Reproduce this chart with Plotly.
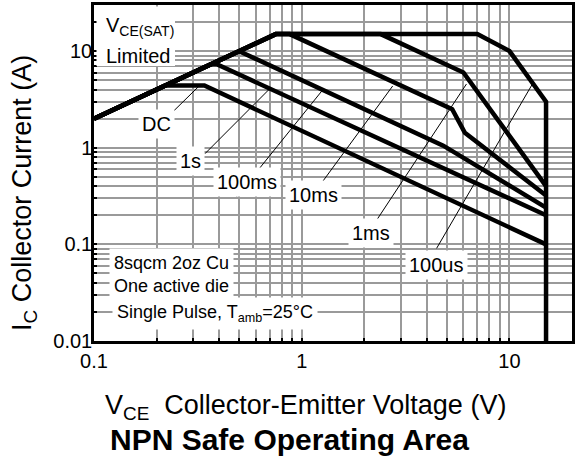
import math
import plotly.graph_objects as go

# ---- data ----
curve_names = ["DC", "1s", "100ms", "10ms", "1ms", "100us"]
dc_V = [0.1, 0.22, 0.34, 15]
dc_I = [2, 4.4, 4.4, 0.1]
s1_V = [0.1, 0.365, 0.39, 15]
s1_I = [2, 7.3, 7.3, 0.2]
ms100_V = [0.1, 0.5, 4.8, 15]
ms100_I = [2, 10, 1.05, 0.24]
ms10_V = [0.1, 0.75, 0.875, 5.3, 6.1, 15]
ms10_I = [2, 15, 15, 2.5, 1.43, 0.32]
ms1_V = [0.1, 0.75, 2.4, 6, 15]
ms1_I = [2, 15, 15, 6, 0.4]
us100_V = [0.1, 0.75, 7, 10, 15, 15]
us100_I = [2, 15, 15, 10, 3, 0.01]

label_text = ["DC", "1s", "100ms", "10ms", "1ms", "100us"]
label_V = [0.199, 0.29, 0.545, 1.14, 2.15, 4.46]
label_I = [1.77, 0.735, 0.446, 0.327, 0.13, 0.0608]

# leader lines: (V1, I1) -> (V2, I2)
leader_V1 = [0.237, 0.342, 0.487, 1.23, 2.29, 4.46]
leader_I1 = [2.3, 0.867, 0.313, 0.416, 0.177, 0.091]
leader_V2 = [0.324, 0.70, 1.25, 2.74, 6.21, 12.9]
leader_I2 = [4.45, 4.06, 3.87, 4.35, 4.57, 4.57]

x_tickvals = [0.1, 0.2, 0.3, 0.4, 0.5, 0.6, 0.7, 0.8, 0.9,
              1, 2, 3, 4, 5, 6, 7, 8, 9, 10, 20]
x_ticktext = ["0.1"] + [""] * 8 + ["1"] + [""] * 8 + ["10", ""]
y_tickvals = [0.01, 0.02, 0.03, 0.04, 0.05, 0.06, 0.07, 0.08, 0.09,
              0.1, 0.2, 0.3, 0.4, 0.5, 0.6, 0.7, 0.8, 0.9,
              1, 2, 3, 4, 5, 6, 7, 8, 9, 10, 20, 30]
y_ticktext = (["0.01"] + [""] * 8 + ["0.1"] + [""] * 8 + ["1"] + [""] * 8
              + ["10", "", ""])

FONT = "Liberation Sans, Arial, sans-serif"

fig = go.Figure()
series = [(dc_V, dc_I), (s1_V, s1_I), (ms100_V, ms100_I),
          (ms10_V, ms10_I), (ms1_V, ms1_I), (us100_V, us100_I)]
for name, (v, i) in zip(curve_names, series):
    fig.add_trace(go.Scatter(x=v, y=i, mode="lines", name=name,
                             line=dict(color="black", width=4.5),
                             showlegend=False, hoverinfo="skip"))

# leader lines
for a, b, c, d in zip(leader_V1, leader_I1, leader_V2, leader_I2):
    fig.add_shape(type="line", xref="x", yref="y", x0=a, y0=b, x1=c, y1=d,
                  line=dict(color="black", width=1), layer="above")

# curve labels
for t, v, i in zip(label_text, label_V, label_I):
    fig.add_annotation(x=math.log10(v), y=math.log10(i), xref="x", yref="y",
                       text=t, showarrow=False, bgcolor="white", borderpad=3,
                       font=dict(family=FONT, size=20, color="black"))


def px_x(p):
    return (p - 94) / 478.0


def px_y(p):
    return (341 - p) / 336.0


# white box behind "V_CE(SAT) Limited"
fig.add_shape(type="rect", xref="paper", yref="paper",
              x0=px_x(96.5), x1=px_x(175), y0=px_y(66), y1=px_y(6.5),
              fillcolor="white", line=dict(width=0), layer="above")
fig.add_annotation(x=px_x(104), y=px_y(27), xref="paper", yref="paper",
                   xanchor="left", yanchor="middle", align="left",
                   text="V<sub>CE(SAT)</sub>", showarrow=False,
                   font=dict(family=FONT, size=20, color="black"))
fig.add_annotation(x=px_x(104), y=px_y(56), xref="paper", yref="paper",
                   xanchor="left", yanchor="middle", align="left",
                   text="Limited", showarrow=False,
                   font=dict(family=FONT, size=20, color="black"))

fig.add_annotation(x=px_x(109), y=px_y(248), xref="paper", yref="paper",
                   xanchor="left", yanchor="top", align="left",
                   text="8sqcm 2oz Cu<br>One active die", showarrow=False,
                   bgcolor="white", borderpad=4,
                   font=dict(family=FONT, size=18, color="black"))
fig.add_annotation(x=px_x(112), y=px_y(313), xref="paper", yref="paper",
                   xanchor="left", yanchor="middle", align="left",
                   text="Single Pulse, T<sub>amb</sub>=25°C", showarrow=False,
                   bgcolor="white", borderpad=4,
                   font=dict(family=FONT, size=18, color="black"))

# axis titles and chart title
fig.add_annotation(x=px_x(305), y=px_y(407), xref="paper", yref="paper",
                   xanchor="center", yanchor="middle",
                   text="V<sub>CE</sub>  Collector-Emitter Voltage (V)",
                   showarrow=False,
                   font=dict(family=FONT, size=27, color="black"))
fig.add_annotation(x=px_x(289), y=px_y(439), xref="paper", yref="paper",
                   xanchor="center", yanchor="middle",
                   text="<b>NPN Safe Operating Area</b>", showarrow=False,
                   font=dict(family=FONT, size=30, color="black"))
fig.add_annotation(x=px_x(24), y=px_y(193), xref="paper", yref="paper",
                   xanchor="center", yanchor="middle",
                   text="I<sub>C</sub> Collector Current (A)", textangle=-90,
                   showarrow=False,
                   font=dict(family=FONT, size=27, color="black"))

axis_common = dict(type="log", showgrid=True, gridcolor="#9a9a9a",
                   gridwidth=1.5, showline=True, linecolor="black",
                   linewidth=2.5, mirror=True, ticks="inside", ticklen=3,
                   tickwidth=2, tickcolor="black", zeroline=False,
                   automargin=False,
                   tickfont=dict(family=FONT, size=20, color="black"))

fig.update_xaxes(range=[-1, math.log10(20)], tickvals=x_tickvals,
                 ticktext=x_ticktext, **axis_common)
fig.update_yaxes(range=[-2, math.log10(30)], tickvals=y_tickvals,
                 ticktext=y_ticktext, ticklabelstandoff=-5, **axis_common)

fig.update_layout(width=575, height=466,
                  margin=dict(l=94, r=3, t=5, b=125),
                  paper_bgcolor="white", plot_bgcolor="white",
                  font=dict(family=FONT, color="black"))

fig.write_html("out.html",
               config={"displayModeBar": False},
               post_script="document.body.style.margin='0px';")
